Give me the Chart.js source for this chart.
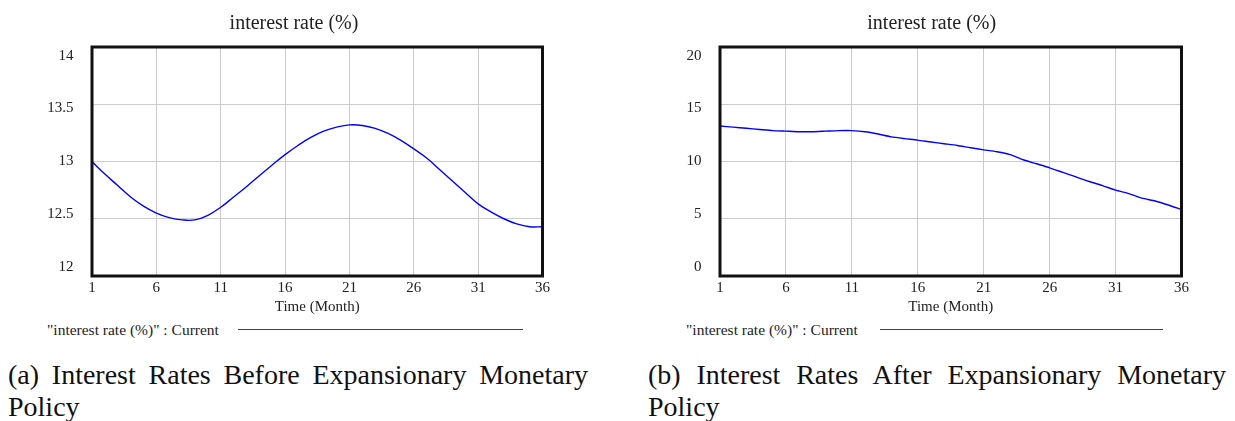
<!DOCTYPE html>
<html>
<head>
<meta charset="utf-8">
<script src="https://cdn.jsdelivr.net/npm/chart.js@4.4.1/dist/chart.umd.min.js"></script>
<style>
  html, body { margin: 0; padding: 0; background: #fff; }
  body { width: 1235px; height: 421px; position: relative; overflow: hidden; font-family: "Liberation Serif", "Times New Roman", serif; color: #222; }
  canvas { position: absolute; top: 0; }
  .leg { position: absolute; top: 321px; font-size: 15.5px; line-height: 18px; white-space: nowrap; color: #222; }
  .legline { position: absolute; top: 329px; height: 0; border-top: 1.5px solid #2f3aa8; }
  .cap { position: absolute; top: 359px; font-size: 28px; line-height: 31.7px; color: #111; }
  .cap .l1 { text-align: justify; text-align-last: justify; }
</style>
</head>
<body>
<canvas id="c1" width="553" height="316" style="left:0px;width:553px;height:316px"></canvas>
<canvas id="c2" width="532" height="316" style="left:660px;width:532px;height:316px"></canvas>

<div class="leg" style="left:47px">"interest rate (%)" : Current</div>
<div class="legline" style="left:238px;width:285px"></div>
<div class="leg" style="left:686px">"interest rate (%)" : Current</div>
<div class="legline" style="left:880px;width:283px"></div>

<div class="cap" style="left:8px;width:580px"><div class="l1">(a) Interest Rates Before Expansionary Monetary</div><div>Policy</div></div>
<div class="cap" style="left:648px;width:578px"><div class="l1">(b) Interest Rates After Expansionary Monetary</div><div>Policy</div></div>

<script>
const months = [1,2,3,4,5,6,7,8,9,10,11,12,13,14,15,16,17,18,19,20,21,22,23,24,25,26,27,28,29,30,31,32,33,34,35,36];
const rateBefore = [13.00,12.89,12.79,12.69,12.61,12.55,12.51,12.49,12.49,12.53,12.60,12.69,
                    12.78,12.875,12.97,13.06,13.14,13.21,13.265,13.30,13.32,13.315,13.29,13.245,
                    13.185,13.11,13.03,12.93,12.83,12.73,12.63,12.56,12.50,12.455,12.43,12.43];
const rateAfter = [13.10,13.00,12.90,12.80,12.70,12.65,12.60,12.60,12.65,12.70,12.70,12.60,
                   12.40,12.15,12.00,11.87,11.70,11.55,11.40,11.20,11.02,10.85,10.60,10.15,
                   9.80,9.45,9.05,8.65,8.25,7.90,7.50,7.20,6.80,6.55,6.20,5.80];
const xTicks = [1,6,11,16,21,26,31,36];
const yTicksBefore = [12,12.5,13,13.5,14];
const yTicksAfter = [0,5,10,15,20];
const chartTitle = 'interest rate (%)';
const xTitle = 'Time (Month)';

const FONT = 'Liberation Serif';
const TXT = '#222';
const GRID = '#cbcbcb';

const framePlugin = {
  id: 'frame',
  afterDraw(c) {
    const a = c.chartArea, ctx = c.ctx;
    ctx.save();
    ctx.strokeStyle = '#111';
    ctx.lineWidth = 3;
    ctx.strokeRect(a.left, a.top, a.right - a.left, a.bottom - a.top);
    ctx.restore();
  }
};

function makeChart(id, values, yTicks, padL, axisW, rightW, tension) {
  const lo = yTicks[0], hi = yTicks[yTicks.length - 1], r = hi - lo;
  return new Chart(document.getElementById(id), {
    type: 'line',
    data: {
      datasets: [{
        data: months.map((m, i) => ({ x: m, y: values[i] })),
        borderColor: '#0000ff',
        borderWidth: 1.4,
        pointRadius: 0,
        fill: false,
        tension: tension
      }]
    },
    options: {
      responsive: false,
      animation: false,
      events: [],
      layout: { padding: { left: padL, right: 0, top: 0, bottom: 0 } },
      plugins: {
        legend: { display: false },
        tooltip: { enabled: false },
        title: {
          display: true, text: chartTitle, color: TXT,
          font: { family: FONT, size: 20, weight: 'normal' },
          padding: { top: 12, bottom: 11 }
        }
      },
      scales: {
        x: {
          type: 'linear', min: 1, max: 36,
          afterBuildTicks: s => { s.ticks = xTicks.map(v => ({ value: v })); },
          grid: { color: GRID, lineWidth: 1, drawTicks: false },
          border: { display: false },
          ticks: { color: TXT, font: { family: FONT, size: 15 }, padding: 3, maxRotation: 0, autoSkip: false },
          title: { display: true, text: xTitle, color: TXT, font: { family: FONT, size: 15 }, padding: { top: -2, bottom: 0 } }
        },
        y: {
          position: 'left', min: lo, max: hi,
          afterBuildTicks: s => { s.ticks = yTicks.map(v => ({ value: v })); },
          grid: { color: GRID, lineWidth: 1, drawTicks: false },
          border: { display: false },
          ticks: { display: false },
          afterFit: s => { s.width = 0; }
        },
        yl: {
          position: 'left', min: lo - r * 0.044, max: hi + r * 0.0408,
          afterBuildTicks: s => { s.ticks = yTicks.map(v => ({ value: v })); },
          grid: { display: false, drawTicks: false },
          border: { display: false },
          ticks: { color: TXT, font: { family: FONT, size: 15 }, padding: 18.5,
                   callback: v => String(Math.round(v * 100) / 100) },
          afterFit: s => { s.width = axisW; }
        },
        yr: {
          position: 'right', min: lo, max: hi,
          grid: { display: false, drawTicks: false },
          border: { display: false },
          ticks: { display: false },
          afterFit: s => { s.width = rightW; }
        }
      }
    },
    plugins: [framePlugin]
  });
}

makeChart('c1', rateBefore, yTicksBefore, 35, 57, 10, 0.4);
makeChart('c2', rateAfter, yTicksAfter, 11.4, 48.6, 10, 0.2);
</script>
</body>
</html>
